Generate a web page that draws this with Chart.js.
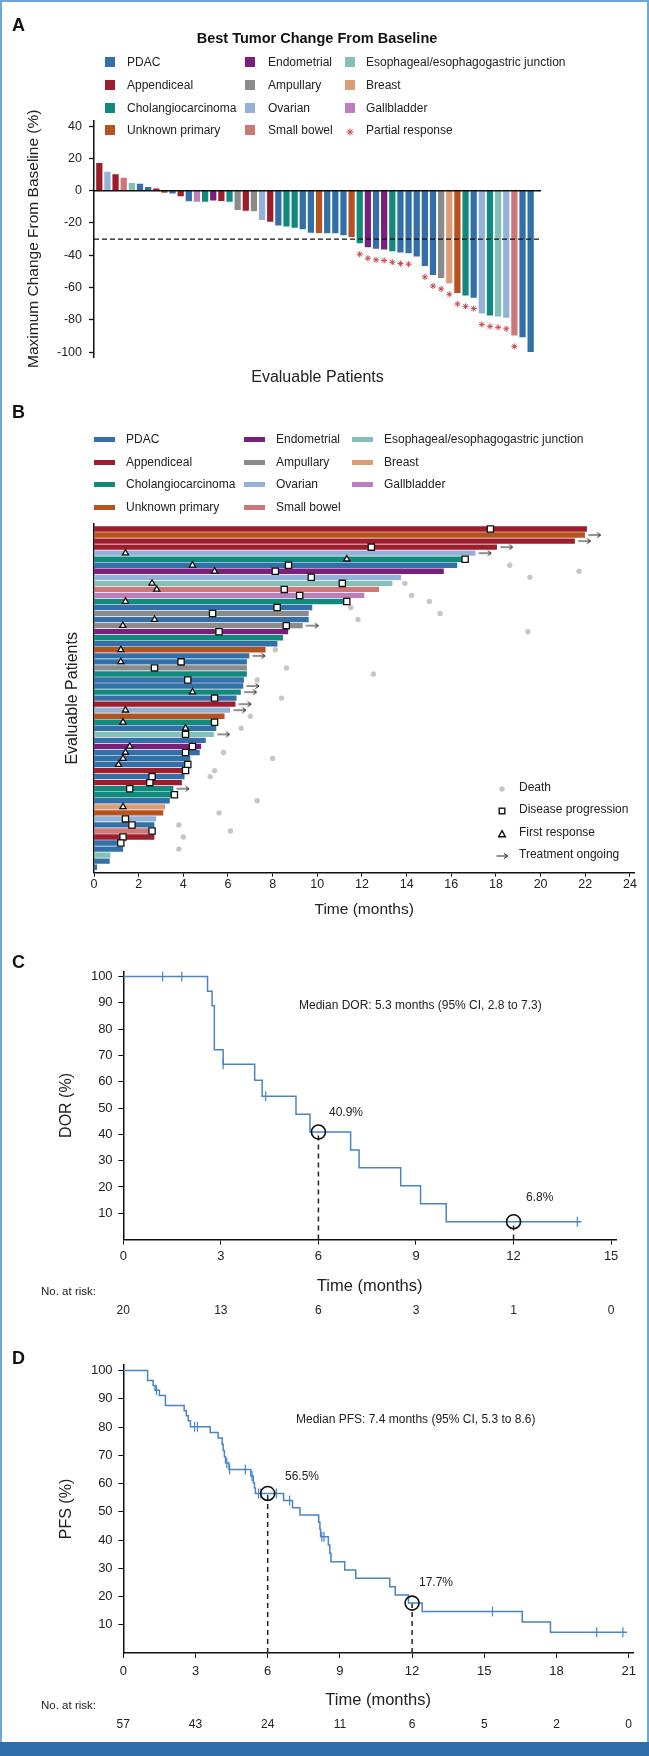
<!DOCTYPE html>
<html>
<head>
<meta charset="utf-8">
<script src="https://cdn.jsdelivr.net/npm/chart.js@4.4.0/dist/chart.umd.min.js"></script>
<style>
  body { margin: 0; background: #fff; }
  #page { position: relative; width: 649px; height: 1756px; overflow: hidden; background: #fff;
          font-family: 'Liberation Sans', Arial, sans-serif; color: #222; }
  #page canvas { position: absolute; left: 0; }
  #frame { position: absolute; left: 0; top: 0; width: 649px; height: 1742px; box-sizing: border-box;
           border: 2px solid #6ea6da; border-bottom: none; }
  #footer { position: absolute; left: 0; top: 1742px; width: 649px; height: 14px; background: #2f6eab; }
  .lbl { position: absolute; white-space: nowrap; line-height: 1; transform: translateY(-50%); z-index: 2; }
  .sw { position: absolute; z-index: 2; }
</style>
</head>
<body>
<div id="page">
  <div id="frame"></div>
  <canvas id="chartA" width="649" height="400" style="top:0px"></canvas>
  <canvas id="chartB" width="649" height="520" style="top:400px"></canvas>
  <canvas id="chartC" width="649" height="400" style="top:920px"></canvas>
  <canvas id="chartD" width="649" height="421" style="top:1320px"></canvas>
  <div id="footer"></div>
</div>
<script>
// ---- tumour types (legend order) ----
const typeCodes = ['PD', 'AP', 'CH', 'UP', 'EN', 'AM', 'OV', 'SB', 'ES', 'BR', 'GB'];
const typeNames = ['PDAC', 'Appendiceal', 'Cholangiocarcinoma', 'Unknown primary', 'Endometrial', 'Ampullary',
                   'Ovarian', 'Small bowel', 'Esophageal/esophagogastric junction', 'Breast', 'Gallbladder'];
const typeColors = ['#3370a8', '#9e1d2c', '#118a7e', '#b4531f', '#7b1f7d', '#8b8b8b',
                    '#94b2d8', '#cd7777', '#82c0b9', '#dc9d74', '#bc7ebc'];

// ---- A: best tumour change (waterfall) ----
const waterfallTypes = ['AP','OV','AP','SB','ES','PD','PD','AP','UP','PD','AP','PD','GB','CH','EN','AP','CH','AM',
  'AP','AM','OV','AP','PD','CH','CH','PD','PD','UP','PD','PD','PD','UP','CH','EN','PD','EN','CH','PD','PD','PD',
  'PD','PD','AM','BR','UP','CH','PD','OV','CH','ES','OV','SB','PD','PD'];
const waterfallValues = [17, 11.5, 9.9, 7.8, 4.5, 4.1, 2, 1.2, -1, -1.5, -3.3, -6.4, -6.6, -6.6, -5.8, -6.2, -6.6,
  -11.8, -12.2, -12.6, -18, -19, -21.4, -22, -22.7, -23.7, -25.8, -26, -26.2, -26.2, -27.4, -28.5, -32.3, -34.8,
  -35.8, -36.2, -37.3, -38.1, -38.5, -40.6, -46.4, -52, -53.8, -57.1, -63.1, -64.6, -66, -75.8, -77, -77.6,
  -78.5, -89.4, -90.5, -99.6];
const partialResponseBars = [33, 34, 35, 36, 37, 38, 39, 41, 42, 43, 44, 45, 46, 47, 48, 49, 50, 51, 52, 54];
const waterfallTicks = [40, 20, 0, -20, -40, -60, -80, -100];
const responseThreshold = -30;

// ---- B: swimmer plot, one entry per patient from the top ----
const swimTypes = ['AP','UP','AP','AP','OV','CH','PD','EN','OV','ES', 'SB','GB','CH','PD','AM','PD','AM','EN','CH','PD',
  'UP','PD','PD','AM','CH','PD','PD','CH','PD','AP', 'OV','UP','CH','PD','ES','PD','EN','PD','PD','PD',
  'AP','PD','AP','CH','CH','PD','BR','UP','OV','PD', 'SB','AP','PD','PD','ES','PD','PD'];
const swimMonths = [22.06, 21.97, 21.52, 18.03, 17.07, 16.7, 16.25, 15.65, 13.74, 13.35,
  12.75, 12.09, 11.4, 9.76, 9.6, 9.6, 9.33, 8.68, 8.45, 8.2,
  7.67, 6.94, 6.83, 6.83, 6.83, 6.7, 6.67, 6.56, 6.37, 6.32,
  6.08, 5.83, 5.4, 5.46, 5.35, 4.99, 4.78, 4.72, 4.3, 4.2,
  4.1, 4.04, 3.92, 3.54, 3.6, 3.38, 3.17, 3.09, 2.77, 2.69,
  2.6, 2.69, 1.2, 1.29, 0.72, 0.69, 0.12];
const firstResponse = [null, null, null, null, 1.41, 11.32, 4.41, 5.4, null, 2.6,
  2.81, null, 1.41, null, null, 2.71, 1.29, null, null, null,
  1.2, null, 1.2, null, null, null, null, 4.41, null, null,
  1.41, null, 1.3, 4.1, null, null, 1.6, 1.41, 1.3, 1.1,
  null, null, null, null, null, null, 1.3, null, null, null,
  null, null, null, null, null, null, null];
const progression = [17.75, null, null, 12.42, null, 16.62, 8.71, 8.12, 9.73, 11.12,
  8.52, 9.21, 11.32, 8.2, 5.31, null, 8.61, 5.6, null, null,
  null, null, 3.9, 2.71, null, 4.2, null, null, 5.4, null,
  null, null, 5.4, null, 4.1, null, 4.41, 4.1, null, 4.2,
  4.1, 2.6, 2.5, 1.6, 3.6, null, null, null, 1.41, 1.7,
  2.6, 1.3, 1.2, null, null, null, null];
const death = [null, null, null, null, null, null, 18.62, 21.72, 19.52, 13.92,
  null, 14.22, 15.02, 11.5, 15.5, 11.82, null, 19.43, null, null,
  8.12, null, null, 8.62, 12.51, 7.31, null, null, 8.4, null,
  null, 7.0, null, 6.59, null, null, null, 5.8, 8.0, null,
  5.4, 5.2, null, null, null, 7.31, null, 5.6, null, 3.8,
  6.11, 4.0, null, 3.8, null, null, null];
const ongoing = [0, 1, 1, 1, 1, 0, 0, 0, 0, 0,  0, 0, 0, 0, 0, 0, 1, 0, 0, 0,
  0, 1, 0, 0, 0, 0, 1, 1, 0, 1,  1, 0, 0, 0, 1, 0, 0, 0, 0, 0,
  0, 0, 0, 1, 0, 0, 0, 0, 0, 0,  0, 0, 0, 0, 0, 0, 0];
const swimTicks = [0, 2, 4, 6, 8, 10, 12, 14, 16, 18, 20, 22, 24];

// ---- C: duration of response ----
const dorMonths = [0, 2.59, 2.73, 2.80, 3.07, 4.04, 4.27, 5.31, 5.74, 6.99, 7.25, 8.53, 9.14, 9.93, 14.09];
const dorSurv = [100, 94.4, 88.9, 72.2, 66.7, 60.6, 54.5, 47.7, 40.9, 34.1, 27.3, 20.5, 13.6, 6.8, 6.8];
const dorCensorMonths = [1.21, 1.80, 3.07, 4.38, 13.96];
const dorCensorSurv = [100, 100, 66.7, 54.5, 6.8];
const dorLandmarkMonths = [6, 12];
const dorLandmarkSurv = [40.9, 6.8];
const dorTicks = [0, 3, 6, 9, 12, 15];
const dorAtRisk = [20, 13, 6, 3, 1, 0];

// ---- D: progression-free survival ----
const pfsMonths = [0, 1.01, 1.24, 1.32, 1.50, 1.75, 2.53, 2.62, 2.70, 2.79, 3.61, 3.94, 4.11, 4.15, 4.20, 4.25,
  4.39, 5.30, 5.40, 5.45, 5.49, 6.66, 7.03, 7.34, 8.12, 8.17, 8.20, 8.52, 8.58, 8.63, 9.20, 9.66, 11.07, 11.30,
  11.85, 12.42, 16.58, 17.75, 20.93];
const pfsSurv = [100, 96.5, 94.7, 93.0, 91.2, 87.6, 85.8, 84.0, 82.2, 80.1, 78.1, 76.1, 73.9, 71.7, 69.5, 67.3,
  65.0, 62.7, 60.3, 58.4, 56.5, 54.0, 51.4, 48.9, 46.3, 43.8, 41.2, 38.3, 35.3, 32.3, 29.4, 26.5, 23.5, 20.6,
  17.7, 14.7, 11.0, 7.4, 7.4];
const pfsCensorMonths = [1.38, 2.96, 3.08, 4.30, 4.42, 5.07, 5.35, 5.62, 5.71, 6.36, 6.91, 8.25, 8.34, 15.34, 19.67, 20.76];
const pfsCensorSurv = [93.0, 80.1, 80.1, 67.3, 65.0, 65.0, 62.7, 56.5, 56.5, 56.5, 54.0, 41.2, 41.2, 14.7, 7.4, 7.4];
const pfsLandmarkMonths = [6, 12];
const pfsLandmarkSurv = [56.5, 17.7];
const pfsTicks = [0, 3, 6, 9, 12, 15, 18, 21];
const pfsAtRisk = [57, 43, 24, 11, 6, 5, 2, 0];

const survTicks = [10, 20, 30, 40, 50, 60, 70, 80, 90, 100];

// ---------------------------------------------------------------
const FONT = "'Liberation Sans', Arial, sans-serif";
Chart.defaults.font.family = FONT;
Chart.defaults.color = '#222';
const page = document.getElementById('page');
const colorOf = code => typeColors[typeCodes.indexOf(code)];
const fixTicks = list => scale => { scale.ticks = list.map(v => ({ value: v })); };

function label(text, x, y, css) {
    const d = document.createElement('div');
    d.className = 'lbl';
    d.textContent = text;
    d.style.left = x + 'px';
    d.style.top = y + 'px';
    Object.assign(d.style, css || {});
    page.appendChild(d);
    return d;
}
function swatch(x, y, w, h, color) {
    const d = document.createElement('div');
    d.className = 'sw';
    Object.assign(d.style, { left: x + 'px', top: (y - h / 2) + 'px', width: w + 'px', height: h + 'px', background: color });
    page.appendChild(d);
}
function icon(svg, x, y) {
    const d = document.createElement('div');
    d.className = 'sw';
    d.innerHTML = svg;
    Object.assign(d.style, { left: (x - 6) + 'px', top: (y - 6) + 'px', width: '12px', height: '12px' });
    page.appendChild(d);
}

const baseOpts = {
    responsive: false,
    animation: false,
    devicePixelRatio: 1,
    events: [],
    plugins: { legend: { display: false }, tooltip: { enabled: false } }
};

// ---------------- panel A ----------------
label('A', 12, 25, { fontSize: '18px', fontWeight: 'bold', color: '#111' });
label('Best Tumor Change From Baseline', 317, 38, { fontSize: '14.5px', fontWeight: 'bold', transform: 'translate(-50%,-50%)', color: '#111' });
const legA = { sx: [105, 245, 345], tx: [127, 268, 366], y: [62, 85, 108, 130] };
typeNames.forEach((name, i) => {
    const c = Math.floor(i / 4), r = i % 4;
    swatch(legA.sx[c], legA.y[r], 10, 10, typeColors[i]);
    label(name, legA.tx[c], legA.y[r], { fontSize: '12px' });
});
icon('<svg width="12" height="12"><g stroke="#c9474f" stroke-width="1"><line x1="6" y1="2.5" x2="6" y2="9.5"/><line x1="2.5" y1="6" x2="9.5" y2="6"/><line x1="3.5" y1="3.5" x2="8.5" y2="8.5"/><line x1="8.5" y1="3.5" x2="3.5" y2="8.5"/></g></svg>', 350, legA.y[3]);
label('Partial response', legA.tx[2], legA.y[3], { fontSize: '12px' });

const A_XMIN = 0.35, A_XMAX = 55.27;
new Chart(document.getElementById('chartA'), {
    type: 'bar',
    data: {
        datasets: [
            {
                type: 'scatter', order: 1, clip: false,
                data: partialResponseBars.map(n => ({ x: n, y: waterfallValues[n - 1] - 7 })),
                pointStyle: 'star', pointRadius: 3, borderColor: '#c9474f', borderWidth: 1
            },
            {
                type: 'line', order: 2,
                data: [{ x: A_XMIN, y: responseThreshold }, { x: A_XMAX, y: responseThreshold }],
                borderColor: '#111', borderWidth: 1.3, borderDash: [5, 3], pointRadius: 0
            },
            {
                type: 'line', order: 2,
                data: [{ x: A_XMIN, y: 0 }, { x: A_XMAX, y: 0 }],
                borderColor: '#111', borderWidth: 1.5, pointRadius: 0
            },
            {
                order: 3,
                data: waterfallValues.map((v, i) => ({ x: i + 1, y: v })),
                backgroundColor: waterfallTypes.map(colorOf),
                barThickness: 5.6, borderWidth: 0
            }
        ]
    },
    options: Object.assign({}, baseOpts, {
        layout: { padding: { left: 24, top: 120.4, right: 108, bottom: 12.4 } },
        scales: {
            x: {
                type: 'linear', min: A_XMIN, max: A_XMAX, offset: false,
                ticks: { display: false }, grid: { display: false }, border: { display: false },
                title: { display: true, text: 'Evaluable Patients', font: { size: 16 }, padding: 0, color: '#222' },
                afterFit: s => { s.height = 30.5; }
            },
            y: {
                type: 'linear', min: -103, max: 43.5,
                afterBuildTicks: fixTicks(waterfallTicks),
                ticks: { font: { size: 12.5 }, padding: 7 },
                grid: { drawOnChartArea: false, tickLength: 5, color: '#111', tickWidth: 1.3 },
                border: { color: '#111', width: 1.5 },
                title: { display: true, text: 'Maximum Change From Baseline (%)', font: { size: 15.5 }, padding: 0, color: '#222' },
                afterFit: s => { s.width = 70; }
            }
        }
    })
});

// ---------------- panel B ----------------
label('B', 12, 412, { fontSize: '18px', fontWeight: 'bold', color: '#111' });
const legB = { sx: [94, 244, 352], tx: [126, 276, 384], y: [439, 462, 484, 507] };
typeNames.forEach((name, i) => {
    const c = Math.floor(i / 4), r = i % 4;
    swatch(legB.sx[c], legB.y[r], 21, 5, typeColors[i]);
    label(name, legB.tx[c], legB.y[r], { fontSize: '12px' });
});
const mk = { x: 502, tx: 519, y: [787, 809, 832, 854] };
icon('<svg width="12" height="12"><circle cx="6" cy="6" r="2.7" fill="#c6c6c6"/></svg>', mk.x, mk.y[0]);
icon('<svg width="12" height="12"><rect x="3.2" y="3.2" width="5.6" height="5.6" fill="#fff" stroke="#111" stroke-width="1.4"/></svg>', mk.x, mk.y[1]);
icon('<svg width="12" height="12"><polygon points="6,2.6 9.4,8.8 2.6,8.8" fill="#fff" stroke="#111" stroke-width="1.4"/></svg>', mk.x, mk.y[2]);
icon('<svg width="12" height="12"><g stroke="#222" stroke-width="1" fill="none"><line x1="0.5" y1="6" x2="11.5" y2="6"/><polyline points="8,3.4 11.5,6 8,8.6"/></g></svg>', mk.x, mk.y[3]);
['Death', 'Disease progression', 'First response', 'Treatment ongoing'].forEach((t, i) => label(t, mk.tx, mk.y[i], { fontSize: '12px' }));

const arrowImg = (() => {
    const c = document.createElement('canvas');
    c.width = 14; c.height = 8;
    const g = c.getContext('2d');
    g.strokeStyle = '#222'; g.lineWidth = 1;
    g.beginPath();
    g.moveTo(0.5, 4); g.lineTo(13, 4);
    g.moveTo(9.5, 1.5); g.lineTo(13, 4); g.lineTo(9.5, 6.5);
    g.stroke();
    return c;
})();
const ARROW_GAP = 0.45;
const rowPoints = arr => arr.map((m, i) => m === null ? null : { x: m, y: i + 1 }).filter(p => p);

new Chart(document.getElementById('chartB'), {
    type: 'bar',
    data: {
        datasets: [
            { type: 'scatter', order: 1, data: rowPoints(firstResponse), pointStyle: 'triangle', pointRadius: 3.6,
              backgroundColor: '#fff', borderColor: '#111', borderWidth: 1.3 },
            { type: 'scatter', order: 1, data: rowPoints(progression), pointStyle: 'rect', pointRadius: 4.4,
              backgroundColor: '#fff', borderColor: '#111', borderWidth: 1.3 },
            { type: 'scatter', order: 1, data: rowPoints(death), pointStyle: 'circle', pointRadius: 2.7,
              backgroundColor: '#c6c6c6', borderWidth: 0 },
            { type: 'scatter', order: 1, clip: false,
              data: rowPoints(swimMonths.map((m, i) => ongoing[i] ? m + ARROW_GAP : null)),
              pointStyle: arrowImg, pointRadius: 5 },
            { order: 3, indexAxis: 'y',
              data: swimMonths.map((m, i) => ({ x: m, y: i + 1 })),
              backgroundColor: swimTypes.map(colorOf), barThickness: 4.7, borderWidth: 0 }
        ]
    },
    options: Object.assign({}, baseOpts, {
        indexAxis: 'y',
        layout: { padding: { left: 63.4, top: 124, right: 14.6, bottom: 1.4 } },
        scales: {
            x: {
                type: 'linear', min: 0, max: 24.2, offset: false,
                afterBuildTicks: fixTicks(swimTicks),
                ticks: { font: { size: 12.5 }, padding: 0.5, maxRotation: 0 },
                grid: { drawOnChartArea: false, tickLength: 4, color: '#111' },
                border: { color: '#111', width: 1.5 },
                title: { display: true, text: 'Time (months)', font: { size: 15.5 }, padding: 0, color: '#222' },
                afterFit: s => { s.height = 45.9; }
            },
            y: {
                type: 'linear', min: 0.17, max: 57.91, reverse: true, offset: false,
                ticks: { display: false },
                grid: { drawOnChartArea: false, drawTicks: false },
                border: { color: '#111', width: 1.5 },
                title: { display: true, text: 'Evaluable Patients', font: { size: 16 }, padding: 0, color: '#222' },
                afterFit: s => { s.width = 30.6; }
            }
        }
    })
});

// ---------------- panels C and D (Kaplan-Meier) ----------------
const KM_BLUE = '#4785c5';
function kmChart(id, top, o) {
    const landmarkLines = o.lmMonths.map((m, i) => ({
        type: 'line', order: 3,
        data: [{ x: m, y: 0 }, { x: m, y: o.lmSurv[i] }],
        borderColor: '#222', borderWidth: 1.5, borderDash: [5, 4], pointRadius: 0
    }));
    const chart = new Chart(document.getElementById(id), {
        type: 'line',
        data: {
            datasets: [
                { type: 'scatter', order: 0, data: o.lmMonths.map((m, i) => ({ x: m, y: o.lmSurv[i] })),
                  pointStyle: 'circle', pointRadius: 7, borderColor: '#111', borderWidth: 1.6,
                  backgroundColor: 'rgba(255,255,255,0)' },
                // Chart.js 'before' = hold the previous value, then drop at the next time point
                { order: 1, data: o.months.map((m, i) => ({ x: m, y: o.surv[i] })), stepped: 'before',
                  borderColor: KM_BLUE, borderWidth: 1.5, pointRadius: 0, fill: false },
                { type: 'scatter', order: 1, data: o.censorMonths.map((m, i) => ({ x: m, y: o.censorSurv[i] })),
                  pointStyle: 'line', rotation: 90, pointRadius: 5, borderColor: KM_BLUE, borderWidth: 1.2 }
            ].concat(landmarkLines)
        },
        options: Object.assign({}, baseOpts, {
            layout: { padding: o.padding },
            scales: {
                x: {
                    type: 'linear', min: 0, max: o.xMax, offset: false,
                    afterBuildTicks: fixTicks(o.ticks),
                    ticks: { font: { size: 13 }, padding: o.tickPad, maxRotation: 0 },
                    grid: { drawOnChartArea: false, tickLength: 5, color: '#111' },
                    border: { color: '#111', width: 1.5 },
                    title: { display: true, text: 'Time (months)', font: { size: 16.5 }, padding: 0, color: '#222' },
                    afterFit: s => { s.height = o.xHeight; }
                },
                y: {
                    type: 'linear', min: 0, max: 102,
                    afterBuildTicks: fixTicks(survTicks),
                    ticks: { font: { size: 13 }, padding: 5.7 },
                    grid: { drawOnChartArea: false, tickLength: 5, color: '#111' },
                    border: { color: '#111', width: 1.5 },
                    title: { display: true, text: o.yTitle, font: { size: 16 }, padding: 0, color: '#222' },
                    afterFit: s => { s.width = 66.5; }
                }
            }
        })
    });
    const xs = chart.scales.x;
    label('No. at risk:', 41, top + o.riskLabelY, { fontSize: '11.5px' });
    o.ticks.forEach((t, i) => label(String(o.atRisk[i]), xs.getPixelForValue(t), top + o.riskY,
        { fontSize: '12px', transform: 'translate(-50%,-50%)' }));
    return chart;
}

label('C', 12, 962, { fontSize: '18px', fontWeight: 'bold', color: '#111' });
kmChart('chartC', 920, {
    months: dorMonths, surv: dorSurv, censorMonths: dorCensorMonths, censorSurv: dorCensorSurv,
    lmMonths: dorLandmarkMonths, lmSurv: dorLandmarkSurv, ticks: dorTicks, atRisk: dorAtRisk,
    xMax: 15.15, yTitle: 'DOR (%)', tickPad: 4.3, xHeight: 57,
    padding: { left: 56.8, top: 51.3, right: 33, bottom: 23.4 },
    riskLabelY: 372, riskY: 390
});
label('Median DOR: 5.3 months (95% CI, 2.8 to 7.3)', 299, 1005, { fontSize: '12px' });
label('40.9%', 329, 1112, { fontSize: '12px' });
label('6.8%', 526, 1197, { fontSize: '12px' });

label('D', 12, 1358, { fontSize: '18px', fontWeight: 'bold', color: '#111' });
kmChart('chartD', 1320, {
    months: pfsMonths, surv: pfsSurv, censorMonths: pfsCensorMonths, censorSurv: pfsCensorSurv,
    lmMonths: pfsLandmarkMonths, lmSurv: pfsLandmarkSurv, ticks: pfsTicks, atRisk: pfsAtRisk,
    xMax: 21.18, yTitle: 'PFS (%)', tickPad: 5.3, xHeight: 57.5,
    padding: { left: 56.8, top: 44.9, right: 16, bottom: 30.4 },
    riskLabelY: 385.7, riskY: 403.8
});
label('Median PFS: 7.4 months (95% CI, 5.3 to 8.6)', 296, 1418.5, { fontSize: '12px' });
label('56.5%', 285, 1476, { fontSize: '12px' });
label('17.7%', 419, 1582, { fontSize: '12px' });
</script>
</body>
</html>
